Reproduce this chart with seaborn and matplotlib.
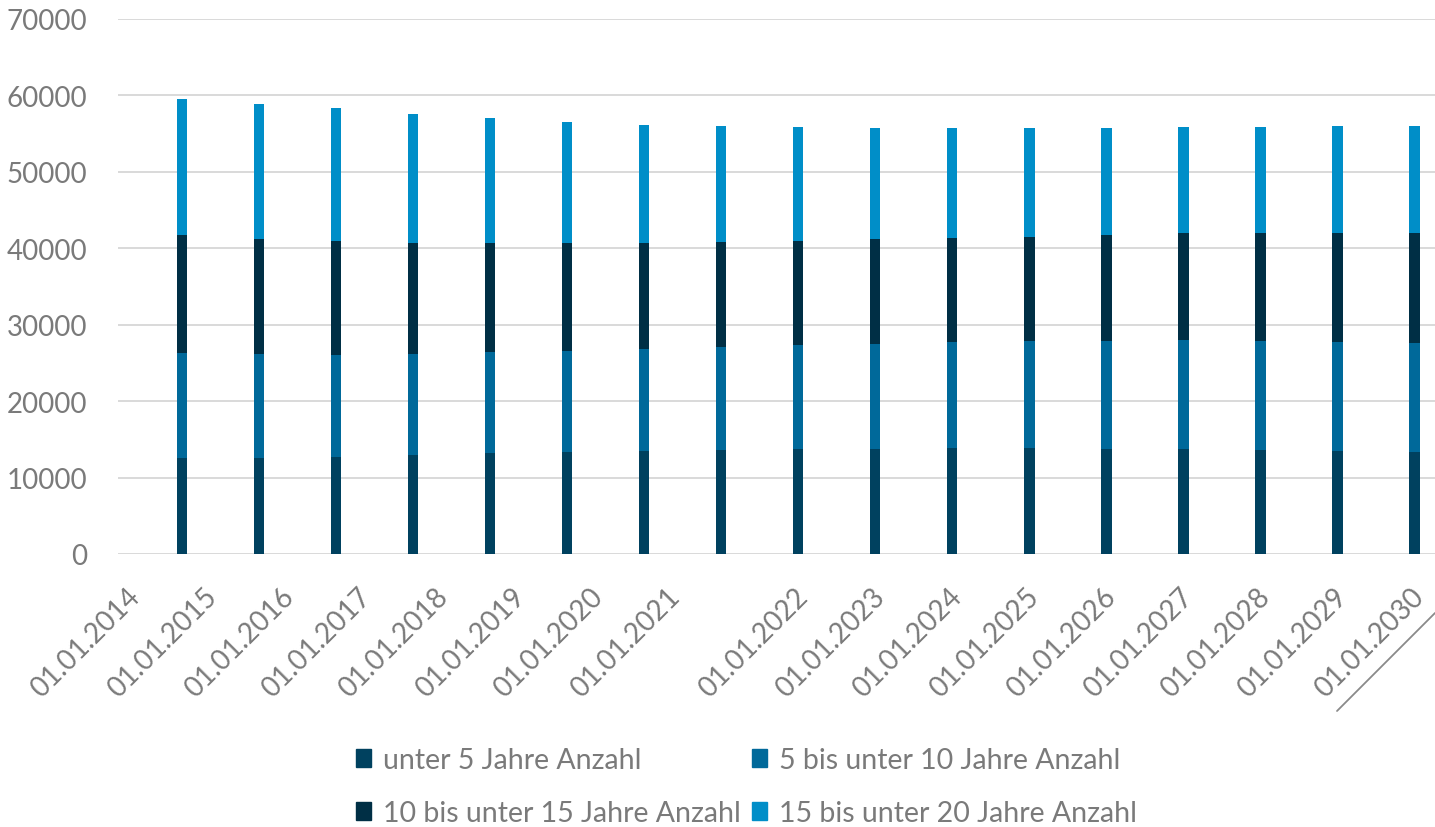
import matplotlib
matplotlib.use('Agg')
import matplotlib.pyplot as plt
import matplotlib.transforms as mtransforms
from matplotlib.lines import Line2D
from matplotlib.patches import Patch
import numpy as np
import pandas as pd
import seaborn as sns

# data
dates = ['01.01.2014', '01.01.2015', '01.01.2016', '01.01.2017', '01.01.2018',
         '01.01.2019', '01.01.2020', '01.01.2021', '01.01.2022', '01.01.2023',
         '01.01.2024', '01.01.2025', '01.01.2026', '01.01.2027', '01.01.2028',
         '01.01.2029', '01.01.2030']
unter_5 = [12600, 12600, 12730, 12990, 13170, 13300, 13430, 13560, 13690,
           13690, 13830, 13830, 13690, 13690, 13560, 13430, 13300]
bis_10 = [13660, 13530, 13350, 13140, 13220, 13300, 13350, 13480, 13700,
          13830, 13870, 14000, 14180, 14270, 14310, 14310, 14270]
bis_15 = [15520, 15120, 14910, 14600, 14300, 14090, 13910, 13740, 13520,
          13650, 13640, 13690, 13910, 13990, 14080, 14210, 14380]
bis_20 = [17750, 17630, 17370, 16840, 16360, 15830, 15440, 15220, 14920,
          14570, 14440, 14220, 14000, 13880, 13960, 14010, 14010]

series_names = ['unter 5 Jahre Anzahl', '5 bis unter 10 Jahre Anzahl',
                '10 bis unter 15 Jahre Anzahl', '15 bis unter 20 Jahre Anzahl']
colors = ['#00415f', '#00699a', '#002f45', '#008ec8']

df = pd.DataFrame({'datum': dates, 's1': unter_5, 's2': bis_10,
                   's3': bis_15, 's4': bis_20})
df['c1'] = df['s1']
df['c2'] = df['c1'] + df['s2']
df['c3'] = df['c2'] + df['s3']
df['c4'] = df['c3'] + df['s4']

sns.set_theme(style='white')
plt.rcParams['font.family'] = ['Lato', 'DejaVu Sans']
text_grey = '#7a7a7a'

fig = plt.figure(figsize=(14.35, 8.28), dpi=100)
ax = fig.add_axes([118 / 1435, 1 - 555 / 828, 1 - 118 / 1435, (555 - 20) / 828])

# stacked bars: draw cumulative totals from top to bottom
for col, color in zip(['c4', 'c3', 'c2', 'c1'], colors[::-1]):
    sns.barplot(data=df, x='datum', y=col, color=color, width=0.14,
                saturation=1, ax=ax, linewidth=0)

ax.set_ylim(0, 70000)
ax.set_xlim(-0.83, 16.27)
ax.set_yticks(np.arange(0, 70001, 10000))
ax.yaxis.grid(True, color='#d9d9d9', linewidth=1.4)
ax.set_axisbelow(True)
for s in ax.spines.values():
    s.set_visible(False)
ax.set_xlabel('')
ax.set_ylabel('')
ax.tick_params(axis='y', length=0, pad=22, labelsize=20, labelcolor=text_grey)
ax.tick_params(axis='x', length=0, pad=21, labelsize=20, labelcolor=text_grey)
ax.set_xticks(range(len(dates)))
ax.set_xticklabels(dates, rotation=45, ha='right', va='top', rotation_mode='anchor')

# the first labels sit further left in the original
shift = mtransforms.ScaledTranslation(-55 / 100, 0, fig.dpi_scale_trans)
for lab in ax.get_xticklabels()[:8]:
    lab.set_transform(lab.get_transform() + shift)
shift2 = mtransforms.ScaledTranslation(-4 / 100, 0, fig.dpi_scale_trans)
for lab in ax.get_xticklabels()[8:]:
    lab.set_transform(lab.get_transform() + shift2)

# stray diagonal line at the lower right
fig.add_artist(Line2D([1337 / 1435, 1435 / 1435], [1 - 712 / 828, 1 - 614 / 828],
                      color='#8a8a8a', linewidth=1.3))

handles = [Patch(color=c) for c in colors]
order = [0, 2, 1, 3]
fig.legend([handles[i] for i in order], [series_names[i] for i in order],
           loc='upper center', bbox_to_anchor=(0.520, 1 - 748 / 828), ncol=2,
           frameon=False, fontsize=20.5, labelcolor=text_grey,
           handlelength=0.55, handleheight=0.6, handletextpad=0.4,
           columnspacing=0.4, borderaxespad=0, borderpad=0,
           labelspacing=0.95, bbox_transform=fig.transFigure)

fig.savefig('out.png', dpi=100)
